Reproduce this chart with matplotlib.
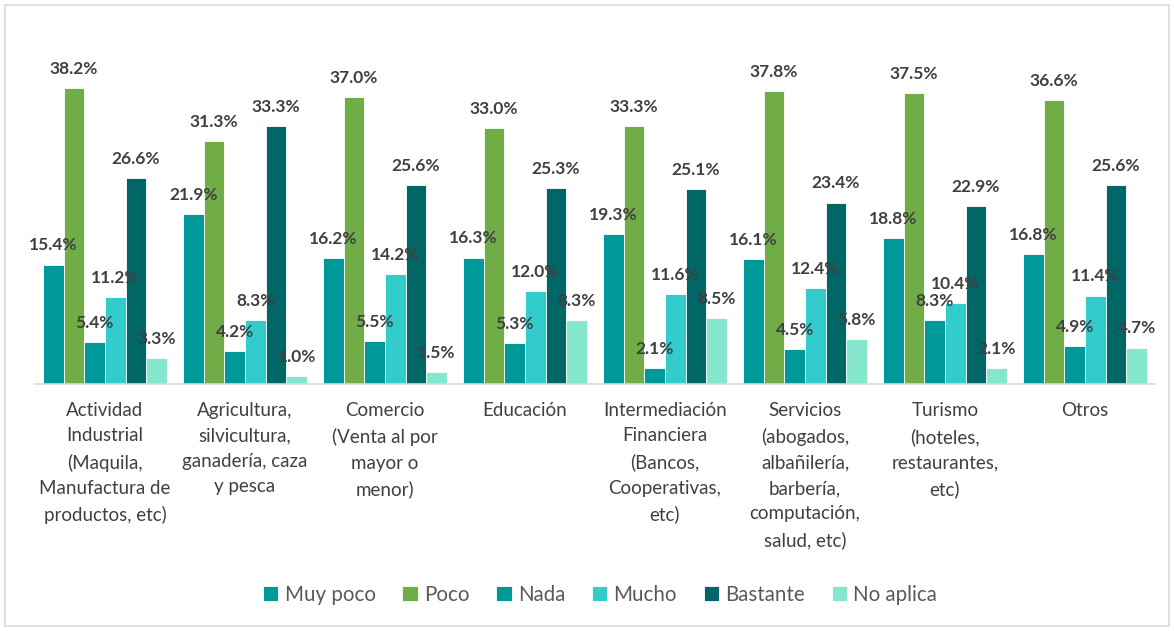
import matplotlib
matplotlib.use("Agg")
import matplotlib.pyplot as plt
import numpy as np
from matplotlib.patches import Rectangle

categories = [
    "Actividad\nIndustrial\n(Maquila,\nManufactura de\nproductos, etc)",
    "Agricultura,\nsilvicultura,\nganadería, caza\ny pesca",
    "Comercio\n(Venta al por\nmayor o\nmenor)",
    "Educación",
    "Intermediación\nFinanciera\n(Bancos,\nCooperativas,\netc)",
    "Servicios\n(abogados,\nalbañilería,\nbarbería,\ncomputación,\nsalud, etc)",
    "Turismo\n(hoteles,\nrestaurantes,\netc)",
    "Otros",
]
series_names = ["Muy poco", "Poco", "Nada", "Mucho", "Bastante", "No aplica"]
muy_poco = [15.4, 21.9, 16.2, 16.3, 19.3, 16.1, 18.8, 16.8]
poco = [38.2, 31.3, 37.0, 33.0, 33.3, 37.8, 37.5, 36.6]
nada = [5.4, 4.2, 5.5, 5.3, 2.1, 4.5, 8.3, 4.9]
mucho = [11.2, 8.3, 14.2, 12.0, 11.6, 12.4, 10.4, 11.4]
bastante = [26.6, 33.3, 25.6, 25.3, 25.1, 23.4, 22.9, 25.6]
no_aplica = [3.3, 1.0, 1.5, 8.3, 8.5, 5.8, 2.1, 4.7]
series = [muy_poco, poco, nada, mucho, bastante, no_aplica]
colors = ["#009999", "#70AD47", "#009999", "#33CCCC", "#006666", "#84E6CC"]

plt.rcParams['font.family'] = ['Lato', 'DejaVu Sans']

fig = plt.figure(figsize=(11.74, 6.31), dpi=100)
ax = fig.add_axes([35/1174, 1-384/631, 1120/1174, (384-35)/631])

n = len(series)
x = np.arange(len(categories))
group_w = 0.885
bw = group_w / n
for i, (vals, c, name) in enumerate(zip(series, colors, series_names)):
    pos = x - group_w/2 + bw*(i+0.5)
    ax.bar(pos, vals, width=bw, color=c, label=name, edgecolor="white", linewidth=0.6, zorder=2)
    for p, v in zip(pos, vals):
        ax.annotate(f"{v:.1f}%", (p, v), xytext=(0, 8), textcoords="offset points",
                    ha="center", va="bottom", fontsize=12.5, fontweight="bold",
                    color="#404040", zorder=5)

ax.set_xlim(-0.5, len(categories)-0.5)
ax.set_ylim(0, 45)
ax.set_yticks([])
ax.set_xticks(x)
ax.set_xticklabels(categories, fontsize=13.5, color="#404040", va="top", linespacing=1.6)
ax.tick_params(axis="x", length=0, pad=13)
for s in ["top", "left", "right"]:
    ax.spines[s].set_visible(False)
ax.spines["bottom"].set_color("#D9D9D9")
ax.spines["bottom"].set_linewidth(1.2)

handles, labels = ax.get_legend_handles_labels()
fig.legend(handles, labels, loc="center", bbox_to_anchor=(600/1174, 1-595/631), ncol=6,
           frameon=False, fontsize=14.8, handlelength=0.75, handleheight=0.75,
           handletextpad=0.3, columnspacing=1.3, labelcolor="#595959")

fig.patches.append(Rectangle((5/1174, 5/631), 1164/1174, 621/631, transform=fig.transFigure,
                             fill=False, edgecolor="#D9D9D9", linewidth=1.2))

fig.savefig("out.png", dpi=100)
